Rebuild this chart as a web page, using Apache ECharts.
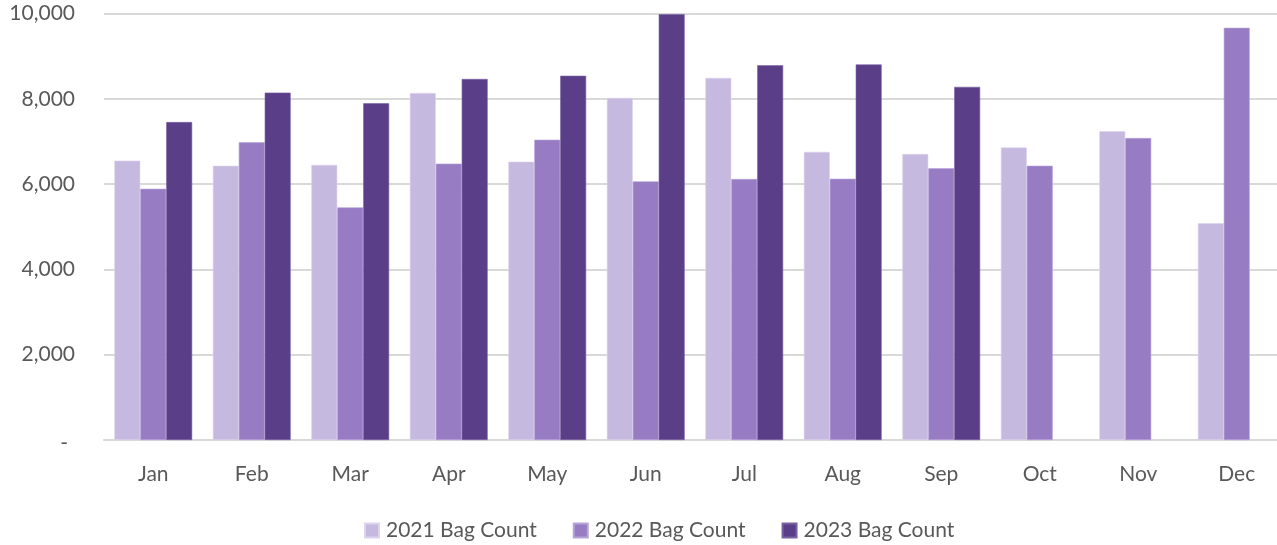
<!DOCTYPE html>
<html>
<head>
<meta charset="utf-8">
<script src="https://cdn.jsdelivr.net/npm/echarts@6/dist/echarts.min.js"></script>
<style>html,body{margin:0;padding:0;background:#fff}#c{width:1277px;height:545px}</style>
</head>
<body>
<div id="c"></div>
<script>
const months = ['Jan','Feb','Mar','Apr','May','Jun','Jul','Aug','Sep','Oct','Nov','Dec'];
const bags2021 = [6550, 6430, 6450, 8135, 6525, 8020, 8490, 6755, 6705, 6860, 7240, 5085];
const bags2022 = [5890, 6980, 5455, 6480, 7040, 6065, 6120, 6125, 6370, 6430, 7080, 9665];
const bags2023 = [7455, 8145, 7895, 8465, 8540, 9985, 8785, 8805, 8280, null, null, null];
const seriesNames = ['2021 Bag Count', '2022 Bag Count', '2023 Bag Count'];
const yTicks = { min: 0, max: 10000, interval: 2000 };

const colors = ['#c6b9df', '#977cc3', '#5a3e88'];
const borders = ['#ddd3ee', '#b7a3da', '#7a62a3'];
const font = 'Lato, "Open Sans", sans-serif';
const chart = echarts.init(document.getElementById('c'));
const mk = (name, data, i) => ({
  name, type: 'bar', data,
  barGap: '0%', barCategoryGap: '21%',
  itemStyle: { color: colors[i], borderColor: borders[i], borderWidth: 0.6 },
  emphasis: { disabled: true }
});
chart.setOption({
  animation: false,
  color: colors,
  grid: { left: 104, width: 1182, top: 13.5, bottom: 105, containLabel: false, outerBoundsMode: 'none' },
  legend: {
    top: 515, left: 359, padding: 5,
    itemWidth: 14, itemHeight: 14, itemGap: 36,
    icon: 'rect',
    textStyle: { fontFamily: font, fontSize: 21, color: '#595959', padding: [0, 0, 0, 2] },
    data: seriesNames
  },
  xAxis: {
    type: 'category', data: months,
    axisLine: { lineStyle: { color: '#d9d9d9', width: 2 } },
    axisTick: { show: false },
    axisLabel: { fontFamily: font, fontSize: 21, color: '#595959', margin: 24 }
  },
  yAxis: {
    type: 'value', min: yTicks.min, max: yTicks.max, interval: yTicks.interval,
    axisLine: { show: false }, axisTick: { show: false },
    splitLine: { lineStyle: { color: '#d9d9d9', width: 2 } },
    axisLabel: {
      fontFamily: font, fontSize: 21, color: '#595959', margin: 29,
      formatter: v => v === 0 ? '{d|-}' : v.toLocaleString('en-US'),
      rich: { d: { fontFamily: font, fontSize: 21, color: '#595959', padding: [6, 7, 0, 0] } }
    }
  },
  series: [mk(seriesNames[0], bags2021, 0), mk(seriesNames[1], bags2022, 1), mk(seriesNames[2], bags2023, 2)]
});
</script>
</body>
</html>
